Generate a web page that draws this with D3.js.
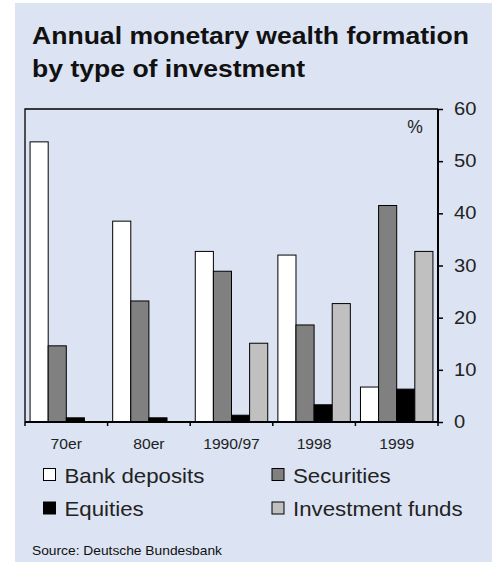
<!DOCTYPE html>
<html>
<head>
<meta charset="utf-8">
<script src="https://cdn.jsdelivr.net/npm/d3@7"></script>
<style>
  html, body { margin: 0; padding: 0; background: #ffffff; }
  svg { display: block; font-family: "Liberation Sans", Arial, Helvetica, sans-serif; }
</style>
</head>
<body>
<svg id="chart" width="498" height="573"></svg>
<script>
// Annual monetary wealth formation, share by type of investment (%)
const periods = ["70er", "80er", "1990/97", "1998", "1999"];
const seriesNames = ["Bank deposits", "Securities", "Equities", "Investment funds"];
const bankDeposits    = [53.7, 38.5, 32.7, 32.0, 6.7];
const securities      = [14.6, 23.2, 28.9, 18.6, 41.5];
const equities        = [0.8, 0.8, 1.3, 3.3, 6.3];
const investmentFunds = [null, null, 15.1, 22.7, 32.7];
const yTicks = [0, 10, 20, 30, 40, 50, 60];

const seriesValues = [bankDeposits, securities, equities, investmentFunds];
const fills = ["#ffffff", "#808080", "#000000", "#c0c0c0"];

const svg = d3.select("#chart");
const bg = "#dce3f2";

// widen glyphs horizontally by factor k
function stretch(sel, k) {
  sel.each(function () {
    const w = this.getComputedTextLength();
    d3.select(this).attr("textLength", w * k).attr("lengthAdjust", "spacingAndGlyphs");
  });
}

// panel background
svg.append("rect").attr("x", 15).attr("y", 3).attr("width", 477).attr("height", 559).attr("fill", bg);

// title
const title = svg.append("g").attr("font-weight", "bold").attr("font-size", 23).attr("fill", "#111");
title.append("text").attr("x", 32).attr("y", 44).text("Annual monetary wealth formation");
title.append("text").attr("x", 32).attr("y", 77).text("by type of investment");
stretch(title.selectAll("text"), 1.155);

// plot area
const plotLeft = 25, plotRight = 438, plotTop = 109, plotBottom = 422;

const x = d3.scaleBand().domain(periods).range([plotLeft, plotRight]).paddingInner(0).paddingOuter(0);
const xs = d3.scaleBand().domain(seriesNames).range([0, x.bandwidth()]).paddingInner(0).paddingOuter(0.28);
const y = d3.scaleLinear().domain([0, 60]).range([plotBottom, plotTop]);

// frame: top and left edges
svg.append("path")
  .attr("d", `M${plotLeft},${plotBottom}V${plotTop}H${plotRight}`)
  .attr("fill", "none").attr("stroke", "#000").attr("stroke-width", 1.3);

// bars
const groups = svg.append("g").selectAll("g")
  .data(seriesNames)
  .join("g")
  .attr("fill", (d, i) => fills[i]);

groups.selectAll("rect")
  .data((name, i) => periods.map((p, j) => ({ period: p, name, value: seriesValues[i][j] })).filter(d => d.value != null))
  .join("rect")
  .attr("x", d => x(d.period) + xs(d.name))
  .attr("y", d => y(d.value))
  .attr("width", xs.bandwidth())
  .attr("height", d => y(0) - y(d.value))
  .attr("stroke", "#000")
  .attr("stroke-width", 1);

// right value axis
const yAxis = svg.append("g")
  .attr("transform", `translate(${plotRight},0)`)
  .call(d3.axisRight(y).tickValues(yTicks).tickSize(5).tickPadding(11).tickFormat(d3.format("d")));
yAxis.select(".domain").attr("stroke-width", 2).attr("d", `M0,${plotBottom}V${plotTop}`);
yAxis.selectAll(".tick line").attr("stroke-width", 1.5);
yAxis.selectAll("text").attr("font-size", 17.5).attr("fill", "#222");
yAxis.attr("font-family", null);
stretch(yAxis.selectAll("text"), 1.15);

// bottom category axis with ticks at group boundaries
const boundaries = d3.range(periods.length + 1).map(i => plotLeft + i * x.step());
const xAxis = svg.append("g").attr("transform", `translate(0,${plotBottom})`);
xAxis.append("line").attr("x1", plotLeft).attr("x2", plotRight + 1).attr("stroke", "#000").attr("stroke-width", 2);
xAxis.selectAll("line.tk").data(boundaries).join("line").attr("class", "tk")
  .attr("x1", d => d).attr("x2", d => d).attr("y1", 0).attr("y2", 4)
  .attr("stroke", "#000").attr("stroke-width", 1.5);
xAxis.selectAll("text").data(periods).join("text")
  .attr("x", d => x(d) + x.bandwidth() / 2)
  .attr("y", 27)
  .attr("text-anchor", "middle")
  .attr("font-size", 14)
  .attr("fill", "#222")
  .text(d => d);
stretch(xAxis.selectAll("text"), 1.12);

// unit label
svg.append("text").attr("x", 415).attr("y", 133).attr("text-anchor", "middle")
  .attr("font-size", 17.5).attr("fill", "#222").text("%");

// legend
const legendPos = [[43.5, 468.5], [272, 468.5], [43.5, 502], [272, 502]];
const legend = svg.append("g").selectAll("g")
  .data(seriesNames)
  .join("g")
  .attr("transform", (d, i) => `translate(${legendPos[i][0]},${legendPos[i][1]})`);
legend.append("rect").attr("width", 12).attr("height", 12)
  .attr("fill", (d, i) => fills[i]).attr("stroke", "#000").attr("stroke-width", 1);
legend.append("text").attr("x", 21).attr("y", 14).attr("font-size", 21).attr("fill", "#222").text(d => d);
stretch(legend.selectAll("text"), 1.06);

// source note
const src = svg.append("text").attr("x", 32).attr("y", 555).attr("font-size", 13).attr("fill", "#111")
  .text("Source: Deutsche Bundesbank");
stretch(src, 1.06);
</script>
</body>
</html>
